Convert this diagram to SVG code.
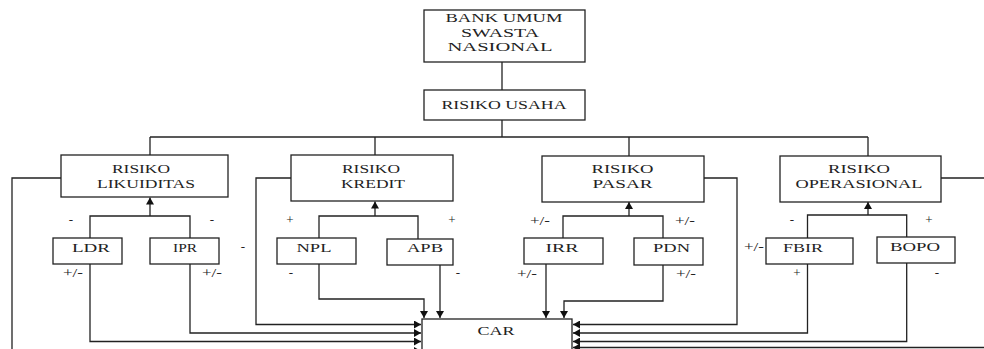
<svg xmlns="http://www.w3.org/2000/svg" width="984" height="349" viewBox="0 0 984 349">
<style>
.box{fill:#fff;stroke:#222;stroke-width:1.3}
.t{font-family:"Liberation Serif","Times New Roman",serif;font-size:13.5px;fill:#222;text-anchor:middle}
.s{font-family:"Liberation Serif","Times New Roman",serif;font-size:13px;fill:#222;text-anchor:middle}
.c{fill:none;stroke:#222;stroke-width:1.3}
.a{fill:none;stroke:#222;stroke-width:1.3;marker-end:url(#ah)}
</style>
<defs>
<marker id="ah" markerUnits="userSpaceOnUse" markerWidth="8" markerHeight="8" refX="7" refY="4" orient="auto">
<path d="M0,0 L7,4 L0,8 Z" fill="#111"/>
</marker>
</defs>
<rect width="984" height="349" fill="#fff"/>
<g id="connectors">
<path class="c" d="M502 62 V90"/>
<path class="c" d="M502 120 V137"/>
<path class="c" d="M150 137 H868"/>
<path class="c" d="M150 137 V155 M375 137 V155 M629 137 V156 M868 137 V156"/>
<path class="c" d="M90 238 V216 H190 V238"/>
<path class="a" d="M150 216 V197.5"/>
<path class="c" d="M319 238 V216 H418 V239"/>
<path class="a" d="M375 216 V201.5"/>
<path class="c" d="M563 238 V216 H663 V238"/>
<path class="a" d="M629 216 V202"/>
<path class="c" d="M807.5 238 V215 H906.7 V237"/>
<path class="a" d="M868 215 V202"/>
<path class="a" d="M61 178 H12 V351 H421"/>
<path class="a" d="M291 178 H256 V324.5 H421"/>
<path class="a" d="M90 264 V341.5 H421"/>
<path class="a" d="M190 264 V333 H421"/>
<path class="a" d="M319 264 V299 H424 V318"/>
<path class="a" d="M440 265 V318"/>
<path class="a" d="M546 264 V318"/>
<path class="a" d="M663 265 V301 H564 V318"/>
<path class="a" d="M704 178 H737 V324.5 H573"/>
<path class="a" d="M807.5 264 V333 H573"/>
<path class="a" d="M906.7 263 V341.5 H573"/>
<path class="a" d="M941 178 H992 V347.5 H573"/>
</g>
<g id="bank"><rect class="box" x="424" y="10" width="161" height="52"/>
<text class="t" style="font-size:13px" x="504" y="22" textLength="117" lengthAdjust="spacingAndGlyphs">BANK UMUM</text>
<text class="t" style="font-size:13px" x="500" y="36.5" textLength="78" lengthAdjust="spacingAndGlyphs">SWASTA</text>
<text class="t" style="font-size:13px" x="500" y="51" textLength="105" lengthAdjust="spacingAndGlyphs">NASIONAL</text></g>
<g id="usaha"><rect class="box" x="424" y="90" width="161" height="30"/><text class="t" x="504" y="109" textLength="125" lengthAdjust="spacingAndGlyphs">RISIKO USAHA</text></g>
<g id="likuiditas"><rect class="box" x="61" y="155" width="167" height="42"/>
<text class="t" x="141" y="172.5" textLength="58" lengthAdjust="spacingAndGlyphs">RISIKO</text>
<text class="t" x="146" y="187.5" textLength="98" lengthAdjust="spacingAndGlyphs">LIKUIDITAS</text></g>
<g id="kredit"><rect class="box" x="291" y="155" width="162" height="46"/>
<text class="t" x="371" y="172.5" textLength="58" lengthAdjust="spacingAndGlyphs">RISIKO</text>
<text class="t" x="373" y="187.5" textLength="64" lengthAdjust="spacingAndGlyphs">KREDIT</text></g>
<g id="pasar"><rect class="box" x="542" y="156" width="162" height="46"/>
<text class="t" x="622.5" y="173" textLength="62" lengthAdjust="spacingAndGlyphs">RISIKO</text>
<text class="t" x="622.5" y="188" textLength="60" lengthAdjust="spacingAndGlyphs">PASAR</text></g>
<g id="operasional"><rect class="box" x="780" y="156" width="161" height="46"/>
<text class="t" x="859" y="173" textLength="62" lengthAdjust="spacingAndGlyphs">RISIKO</text>
<text class="t" x="859" y="188" textLength="127" lengthAdjust="spacingAndGlyphs">OPERASIONAL</text></g>
<g id="ldr"><rect class="box" x="53" y="238" width="69" height="26"/><text class="t" x="91" y="251.5" textLength="38" lengthAdjust="spacingAndGlyphs">LDR</text></g>
<g id="ipr"><rect class="box" x="150" y="238" width="69" height="26"/><text class="t" x="185" y="251.5" textLength="24" lengthAdjust="spacingAndGlyphs">IPR</text></g>
<g id="npl"><rect class="box" x="277" y="238" width="79" height="26"/><text class="t" x="314" y="251.5" textLength="35" lengthAdjust="spacingAndGlyphs">NPL</text></g>
<g id="apb"><rect class="box" x="387" y="239" width="66" height="26"/><text class="t" x="425" y="252" textLength="36" lengthAdjust="spacingAndGlyphs">APB</text></g>
<g id="irr"><rect class="box" x="524" y="238" width="79" height="26"/><text class="t" x="562" y="251.5" textLength="33" lengthAdjust="spacingAndGlyphs">IRR</text></g>
<g id="pdn"><rect class="box" x="634" y="238" width="69" height="27"/><text class="t" x="671.5" y="251.5" textLength="37" lengthAdjust="spacingAndGlyphs">PDN</text></g>
<g id="fbir"><rect class="box" x="766" y="238" width="87" height="26"/><text class="t" x="803" y="251.5" textLength="40" lengthAdjust="spacingAndGlyphs">FBIR</text></g>
<g id="bopo"><rect class="box" x="877" y="237" width="78" height="26"/><text class="t" x="915" y="250.5" textLength="50" lengthAdjust="spacingAndGlyphs">BOPO</text></g>
<g id="car"><rect class="box" x="422" y="319" width="150" height="45"/><text class="t" x="496" y="334.5" textLength="37" lengthAdjust="spacingAndGlyphs">CAR</text></g>
<g id="labels">
<text class="s" x="71" y="224">-</text><text class="s" x="212" y="224">-</text><text class="s" x="243" y="251">-</text>
<text class="s" x="73" y="277" textLength="20" lengthAdjust="spacingAndGlyphs">+/-</text><text class="s" x="212" y="277" textLength="20" lengthAdjust="spacingAndGlyphs">+/-</text>
<text class="s" x="290" y="224">+</text><text class="s" x="452" y="224">+</text>
<text class="s" x="291" y="277">-</text><text class="s" x="458" y="277">-</text>
<text class="s" x="540" y="225" textLength="20" lengthAdjust="spacingAndGlyphs">+/-</text><text class="s" x="685" y="225" textLength="20" lengthAdjust="spacingAndGlyphs">+/-</text>
<text class="s" x="527" y="278" textLength="20" lengthAdjust="spacingAndGlyphs">+/-</text><text class="s" x="686" y="278" textLength="20" lengthAdjust="spacingAndGlyphs">+/-</text>
<text class="s" x="792" y="224">-</text><text class="s" x="929" y="224">+</text>
<text class="s" x="754" y="251" textLength="20" lengthAdjust="spacingAndGlyphs">+/-</text>
<text class="s" x="797" y="277">+</text><text class="s" x="937" y="277">-</text>
</g>
</svg>
